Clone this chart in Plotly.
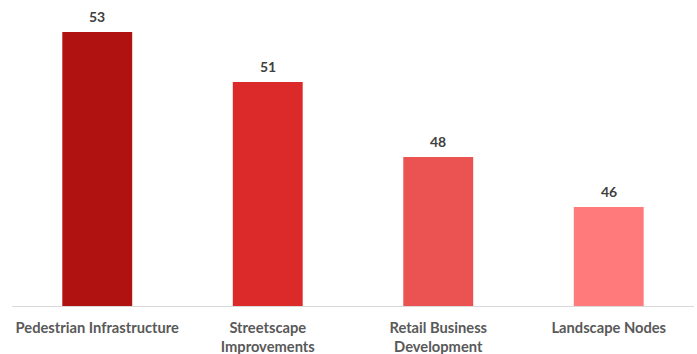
import plotly.graph_objects as go

categories = ["Pedestrian Infrastructure", "Streetscape<br>Improvements", "Retail Business<br>Development", "Landscape Nodes"]
values = [53, 51, 48, 46]
colors = ["#B01212", "#DC2A2B", "#EB5252", "#FF7B7B"]

fig = go.Figure(go.Bar(
    x=categories, y=values,
    marker=dict(color=colors, line=dict(width=0)),
    width=0.41,
    hoverinfo="x+y",
))

for c, v in zip(categories, values):
    fig.add_annotation(
        x=c, y=v, text=str(v), showarrow=False,
        yanchor="bottom", yshift=5,
        font=dict(family="Lato", size=14, color="#404040", weight="bold"),
    )

fig.update_layout(
    width=697, height=354,
    margin=dict(l=12, r=3, t=7, b=48),
    plot_bgcolor="white", paper_bgcolor="white",
    showlegend=False,
    xaxis=dict(
        showline=True, linecolor="#D9D9D9", linewidth=1,
        tickfont=dict(family="Lato", size=14.7, color="#595959", weight="bold"),
        ticks="", showgrid=False, ticklabelstandoff=8, automargin=False,
    ),
    yaxis=dict(range=[42.04, 54], visible=False, showgrid=False, automargin=False),
)

fig.write_html("out.html")
